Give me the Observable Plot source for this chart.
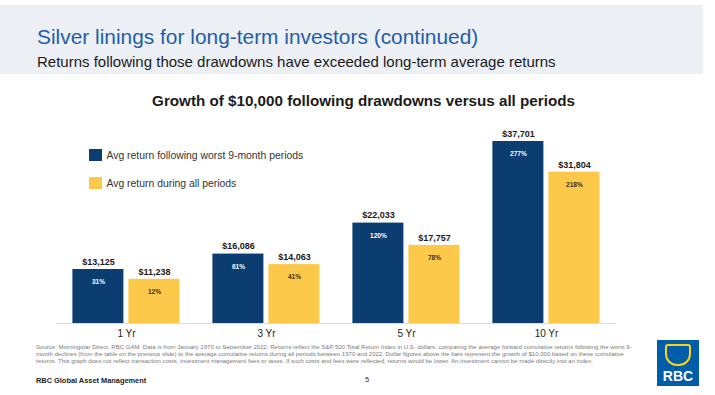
<!DOCTYPE html>
<html>
<head>
<meta charset="utf-8">
<script src="https://cdn.jsdelivr.net/npm/d3@7"></script>
<script src="https://cdn.jsdelivr.net/npm/@observablehq/plot@0.6"></script>
<style>
  html, body { margin:0; padding:0; background:#fff; }
  body { width:715px; height:395px; position:relative; overflow:hidden; font-family:"Liberation Sans", Arial, sans-serif; }
  .abs { position:absolute; white-space:nowrap; }
  #band { position:absolute; left:0; top:5px; width:703px; height:69px; background:#eceff4; }
  #title { left:37px; top:25px; font-size:20.9px; color:#1f5ea8; }
  #subtitle { left:37px; top:53px; font-size:15px; color:#1b1b1b; }
  #ctitle { left:0; width:715px; text-align:center; top:92px; font-size:15.2px; font-weight:bold; color:#1b1b1b; padding-left:12px; box-sizing:border-box; }
  #legend { left:89px; top:149px; font-size:10.4px; color:#333; }
  .li { display:flex; align-items:center; height:12px; margin-bottom:16px; }
  .sw { width:12.5px; height:12px; margin-right:5px; }
  #chart { position:absolute; left:0; top:110px; }
  #source { left:36px; top:344px; font-size:6.05px; line-height:6.8px; color:#7a7a7a; }
  #firm { left:36px; top:376px; font-size:7.4px; font-weight:bold; color:#222; }
  #page { left:365px; top:375px; font-size:7.5px; color:#333; }
  #logo { position:absolute; left:657px; top:340px; width:42px; height:46px; background:#005daa; overflow:hidden; }
  #logo .shield { position:absolute; left:8px; top:4px; width:26px; height:22px; border:2px solid #fcd116; border-radius:3px 3px 12px 12px; box-sizing:border-box; }
  #logo .rbc { position:absolute; left:0; width:42px; top:28px; text-align:center; font-size:14px; font-weight:bold; color:#fff; }
</style>
</head>
<body>
<div id="band"></div>
<div id="title" class="abs">Silver linings for long-term investors (continued)</div>
<div id="subtitle" class="abs">Returns following those drawdowns have exceeded long-term average returns</div>
<div id="ctitle" class="abs">Growth of $10,000 following drawdowns versus all periods</div>
<div id="legend" class="abs"></div>
<div id="chart"></div>
<div id="source" class="abs">Source: Morningstar Direct, RBC GAM. Data is from January 1970 to September 2022. Returns reflect the S&amp;P 500 Total Return Index in U.S. dollars, comparing the average forward cumulative returns following the worst 9-<br>month declines (from the table on the previous slide) to the average cumulative returns during all periods between 1970 and 2022. Dollar figures above the bars represent the growth of $10,000 based on these cumulative<br>returns. This graph does not reflect transaction costs, investment management fees or taxes. If such costs and fees were reflected, returns would be lower. An investment cannot be made directly into an index.</div>
<div id="firm" class="abs">RBC Global Asset Management</div>
<div id="page" class="abs">5</div>
<div id="logo"><div class="shield"></div><div class="rbc">RBC</div></div>
<script>
const periods = ["1 Yr", "3 Yr", "5 Yr", "10 Yr"];
const seriesNames = ["Avg return following worst 9-month periods", "Avg return during all periods"];
const drawdownValues = [13125, 16086, 22033, 37701];
const drawdownReturns = [31, 61, 120, 277];
const allValues = [11238, 14063, 17757, 31804];
const allReturns = [12, 41, 78, 218];
const seriesColors = ["#0b3d70", "#fcc84a"];
const labelColors = ["#ffffff", "#3a3020"];
const yBase = 2757;

const data = [];
periods.forEach((p, i) => {
  data.push({period: p, series: seriesNames[0], value: drawdownValues[i], ret: drawdownReturns[i]});
  data.push({period: p, series: seriesNames[1], value: allValues[i], ret: allReturns[i]});
});

// legend
const legend = document.getElementById("legend");
seriesNames.forEach((s, i) => {
  const row = document.createElement("div");
  row.className = "li";
  row.innerHTML = `<div class="sw" style="background:${seriesColors[i]}"></div><span>${s}</span>`;
  legend.appendChild(row);
});

const fmt = d3.format(",");
const mL = 55.6;
const chart = Plot.plot({
  width: 715,
  height: 235,
  marginTop: 31,
  marginBottom: 22,
  marginLeft: mL,
  marginRight: 99,
  style: {fontFamily: "Liberation Sans, Arial, sans-serif", background: "transparent"},
  facet: {data, x: "period"},
  fx: {domain: periods, padding: 0, label: null, axis: "bottom", tickSize: 0, tickPadding: 6},
  x: {domain: seriesNames, range: [mL + 16.5, mL + 123.5], paddingInner: 0.09, paddingOuter: 0, axis: null},
  y: {domain: [yBase, 37701], axis: null},
  color: {domain: seriesNames, range: seriesColors},
  marks: [
    Plot.barY(data, {x: "series", y1: yBase, y2: "value", fill: "series"}),
    Plot.ruleY([yBase], {stroke: "#dcdcdc", strokeWidth: 1}),
    Plot.text(data, {x: "series", y: "value", text: d => "$" + fmt(d.value), dy: -7.5, fontWeight: "bold", fontSize: 9, fill: "#1b1b1b"}),
    Plot.text(data, {x: "series", y: "value", text: d => d.ret + "%", dy: 12.5, fontWeight: "bold", fontSize: 6.5,
      fill: d => labelColors[seriesNames.indexOf(d.series)]})
  ]
});
d3.select(chart).selectAll("[aria-label='fx-axis'] text, [aria-label='fx-axis tick label'] text").style("font-size", "10px").attr("fill", "#222");
d3.select(chart).style("font-size", "10px");
document.getElementById("chart").appendChild(chart);
</script>
</body>
</html>
